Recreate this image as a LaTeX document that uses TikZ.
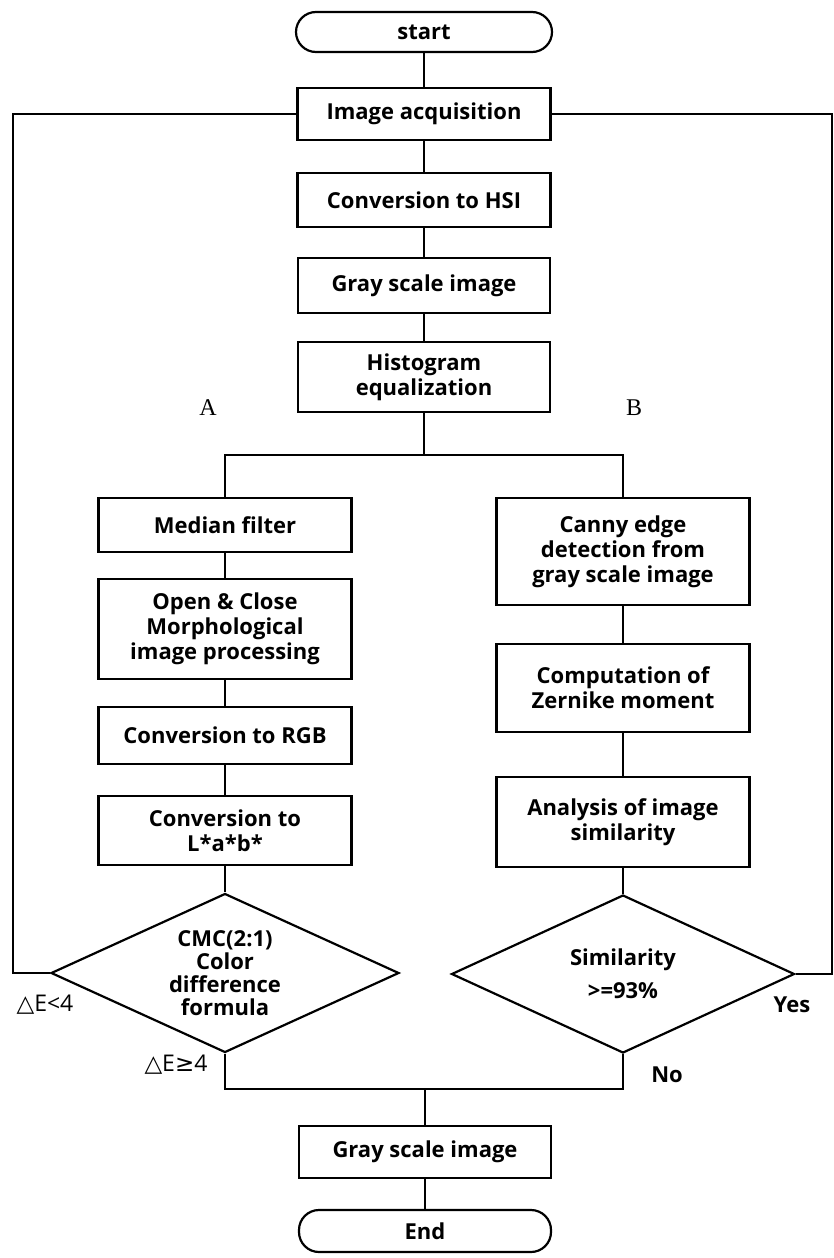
\documentclass[tikz,border=0pt]{standalone}
\usepackage{fontspec}
\setmainfont{Open Sans}
\newfontfamily\symf{DejaVu Sans}
\newfontfamily\serf{Liberation Serif}
\usetikzlibrary{shapes.geometric}
\begin{document}
\begin{tikzpicture}[x=1pt,y=-1pt,
  proc/.style={draw, line width=2.2pt, inner sep=0pt, align=center,
    font=\bfseries\fontsize{22}{25}\selectfont},
  term/.style={proc, rounded corners=20pt},
  dec/.style={draw, diamond, aspect=2.2, line width=2.2pt, inner sep=0pt, align=center,
    font=\bfseries\fontsize{22}{23}\selectfont},
  conn/.style={line width=2pt},
  lbl/.style={inner sep=0pt, font=\bfseries\fontsize{22}{24}\selectfont},
  dlbl/.style={inner sep=0pt, font=\fontsize{23}{26}\selectfont},
  branch/.style={inner sep=0pt, font=\serf\fontsize{24}{26}\selectfont}]
\useasboundingbox (0,0) rectangle (833,1258);
% main column
\node[term, minimum width=256pt, minimum height=40pt] (start) at (424,32) {start};
\node[proc, minimum width=253pt, minimum height=52pt] (acq) at (424,114) {Image acquisition};
\node[proc, minimum width=253pt, minimum height=54pt] (hsi) at (424,200) {Conversion to HSI};
\node[proc, minimum width=252pt, minimum height=55pt] (gray1) at (424,285.5) {Gray scale image};
\node[proc, minimum width=252pt, minimum height=70pt] (hist) at (424,377) {Histogram\\equalization};
\node[branch] (la) at (208,408) {A};
\node[branch] (lb) at (634,408) {B};
% left column
\node[proc, minimum width=253pt, minimum height=54pt] (med) at (225,525) {Median filter};
\node[proc, minimum width=253pt, minimum height=100pt] (open) at (225,629) {Open \& Close\\Morphological\\image processing};
\node[proc, minimum width=253pt, minimum height=57pt] (rgb) at (225,735.5) {Conversion to RGB};
\node[proc, minimum width=253pt, minimum height=69pt] (lab) at (225,830.5) {Conversion to\\L*a*b*};
\node[dec, minimum width=348pt, minimum height=159pt] (d1) at (225,973) {CMC(2:1)\\Color\\difference\\formula};
% right column
\node[proc, minimum width=253pt, minimum height=107pt] (canny) at (623,551.5) {Canny edge\\detection from\\gray scale image};
\node[proc, minimum width=253pt, minimum height=88pt] (comp) at (623,688) {Computation of\\Zernike moment};
\node[proc, minimum width=253pt, minimum height=90pt] (anal) at (623,822) {Analysis of image\\similarity};
\node[dec, minimum width=343pt, minimum height=158pt] (d2) at (623,974) {Similarity\\[10pt]>=93\%};
% bottom
\node[proc, minimum width=252pt, minimum height=52pt] (gray2) at (425,1152) {Gray scale image};
\node[term, minimum width=252pt, minimum height=42pt] (end) at (425,1231) {End};
% labels
\node[dlbl] (lt) at (45,1005) {{\symf △}E<4};
\node[dlbl] (ge) at (176,1065) {{\symf △}E{\symf ≥}4};
\node[lbl] (no) at (667,1075) {No};
\node[lbl] (yes) at (792,1005) {Yes};
% connectors
\coordinate (sp) at (424,455);
\coordinate (mg) at (425,1089);
\draw[conn] (start) -- (acq);
\draw[conn] (acq) -- (hsi);
\draw[conn] (hsi) -- (gray1);
\draw[conn] (gray1) -- (hist);
\draw[conn] (hist) -- (sp);
\draw[conn] (med.north) |- (sp);
\draw[conn] (sp) -| (canny.north);
\draw[conn] (med) -- (open);
\draw[conn] (open) -- (rgb);
\draw[conn] (rgb) -- (lab);
\draw[conn] (lab) -- (d1);
\draw[conn] (canny) -- (comp);
\draw[conn] (comp) -- (anal);
\draw[conn] (anal) -- (d2);
\draw[conn] (d1.west) -- ++(-37,0) |- (acq.west);
\draw[conn] (d2.east) -- ++(36,0) |- (acq.east);
\draw[conn] (d1.south) |- (mg);
\draw[conn] (d2.south) |- (mg);
\draw[conn] (mg) -- (gray2);
\draw[conn] (gray2) -- (end);
\end{tikzpicture}
\end{document}
